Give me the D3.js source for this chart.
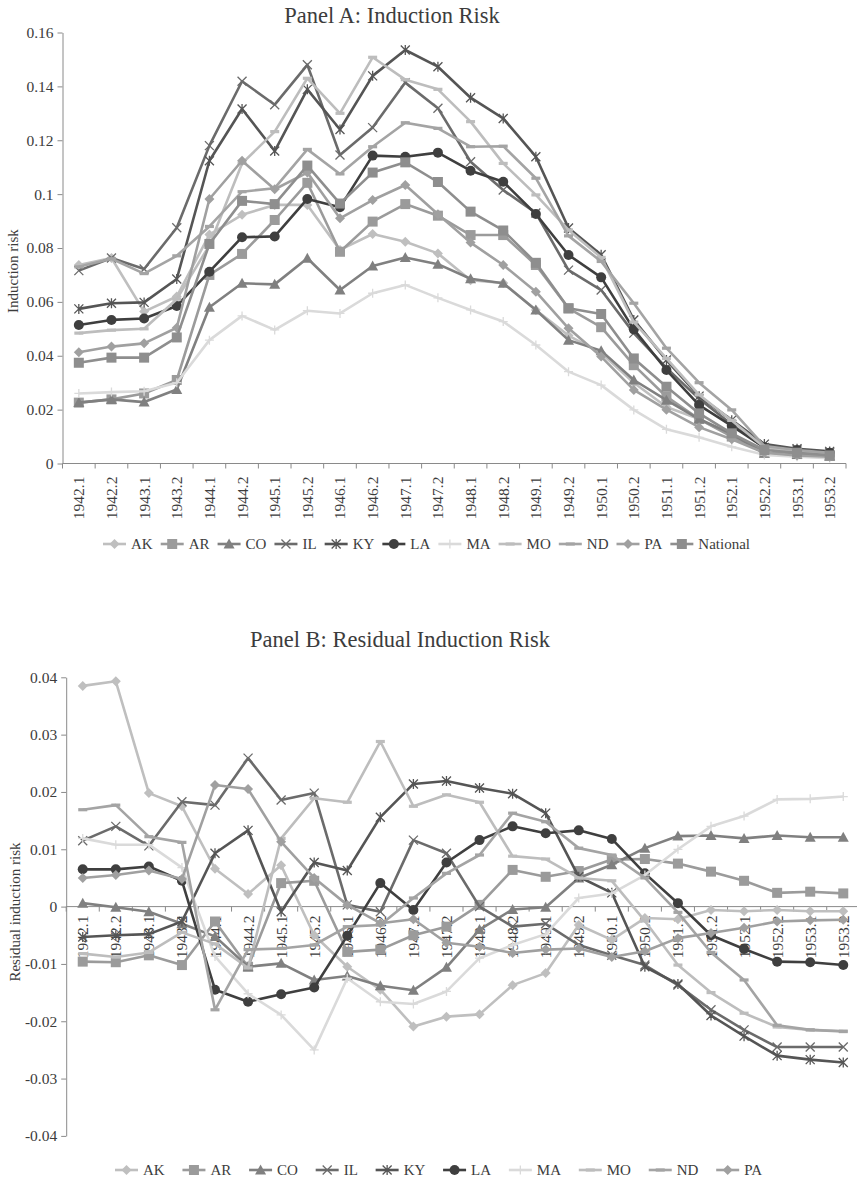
<!DOCTYPE html>
<html>
<head>
<meta charset="utf-8">
<script src="https://cdnjs.cloudflare.com/ajax/libs/d3/7.8.5/d3.min.js"></script>
<style>
  body { margin: 0; background: #fff; }
  svg text { font-family: "Liberation Serif", "Times New Roman", serif; fill: #3c3c3c; }
</style>
</head>
<body>
<svg id="chart" width="857" height="1182"></svg>
<script>
// half-year periods on the x axis
const periods = ["1942.1","1942.2","1943.1","1943.2","1944.1","1944.2","1945.1","1945.2",
  "1946.1","1946.2","1947.1","1947.2","1948.1","1948.2","1949.1","1949.2",
  "1950.1","1950.2","1951.1","1951.2","1952.1","1952.2","1953.1","1953.2"]

// Panel A: induction risk
const riskAK = [0.0737,0.0763,0.0564,0.062,0.085,0.0923,0.096,0.096,0.0793,0.0852,0.0823,0.078,0.068,0.067,0.057,0.0475,0.041,0.030,0.021,0.0165,0.0105,0.004,0.0035,0.0025]
const riskAR = [0.0226,0.0238,0.026,0.031,0.070,0.0778,0.0904,0.1042,0.0786,0.0898,0.0963,0.092,0.0848,0.0848,0.0737,0.0576,0.0506,0.0365,0.0248,0.0165,0.010,0.004,0.0035,0.003]
const riskCO = [0.0226,0.0238,0.0228,0.0275,0.058,0.0669,0.0665,0.0762,0.0644,0.0733,0.0765,0.074,0.0686,0.0669,0.057,0.0458,0.0419,0.031,0.0235,0.0165,0.011,0.0038,0.0033,0.0027]
const riskIL = [0.0716,0.0763,0.0722,0.0875,0.118,0.1419,0.1332,0.148,0.1145,0.1247,0.1414,0.1319,0.112,0.1015,0.093,0.0718,0.0644,0.0484,0.0355,0.024,0.0145,0.006,0.005,0.004]
const riskKY = [0.0574,0.0595,0.0598,0.0685,0.1124,0.1316,0.116,0.1389,0.124,0.1439,0.1535,0.1473,0.1358,0.1281,0.1139,0.0874,0.0775,0.0533,0.0384,0.025,0.0161,0.0072,0.0055,0.0045]
const riskLA = [0.0514,0.0533,0.0538,0.0585,0.0712,0.084,0.0843,0.0982,0.0951,0.1143,0.1139,0.1154,0.1087,0.1046,0.0926,0.0774,0.0691,0.0498,0.0347,0.0217,0.014,0.006,0.005,0.004]
const riskMA = [0.026,0.0265,0.0268,0.030,0.0458,0.0548,0.0496,0.0567,0.0557,0.0632,0.0663,0.0615,0.057,0.0527,0.044,0.0341,0.0291,0.0199,0.0127,0.0097,0.0062,0.0032,0.0025,0.002]
const riskMO = [0.0484,0.0495,0.050,0.061,0.081,0.1114,0.1232,0.143,0.130,0.1508,0.1425,0.1389,0.1269,0.1114,0.0997,0.0867,0.0765,0.0525,0.039,0.0255,0.016,0.006,0.0045,0.0035]
const riskND = [0.073,0.076,0.0705,0.0771,0.088,0.1009,0.1022,0.1166,0.1075,0.1176,0.1265,0.1244,0.1176,0.1178,0.1059,0.0845,0.075,0.0595,0.0428,0.030,0.0199,0.0065,0.005,0.004]
const riskPA = [0.0413,0.0434,0.0446,0.0504,0.0982,0.1124,0.1018,0.108,0.091,0.0978,0.1034,0.0925,0.082,0.0737,0.0638,0.0502,0.0397,0.0273,0.020,0.0135,0.009,0.004,0.003,0.0025]
const riskNational = [0.0374,0.0393,0.0393,0.0468,0.0815,0.0975,0.0963,0.1106,0.0965,0.108,0.1118,0.1045,0.0935,0.0865,0.0745,0.0576,0.0555,0.039,0.0285,0.0186,0.0112,0.005,0.004,0.003]

// Panel B: residual induction risk
const residAK = [0.0385,0.0393,0.0198,0.0175,0.0066,0.0022,0.0072,-0.005,-0.0105,-0.0145,-0.0209,-0.0192,-0.0188,-0.0137,-0.0116,-0.0032,-0.0058,-0.002,-0.0022,-0.0006,-0.0008,-0.0006,-0.0008,-0.0008]
const residAR = [-0.0096,-0.0097,-0.0085,-0.0102,-0.0026,-0.0105,0.0041,0.0045,-0.0079,-0.0075,-0.005,-0.0035,0.0003,0.0064,0.0052,0.0062,0.0082,0.0083,0.0075,0.0061,0.0045,0.0024,0.0026,0.0023]
const residCO = [0.0006,-0.0001,-0.0009,-0.003,-0.0052,-0.0105,-0.0099,-0.0128,-0.0121,-0.0138,-0.0146,-0.0106,-0.004,-0.0005,-0.0001,0.005,0.0073,0.0102,0.0123,0.0124,0.0119,0.0124,0.0121,0.0121]
const residIL = [0.0115,0.014,0.0106,0.0183,0.0177,0.0259,0.0186,0.0198,0.0003,-0.0009,0.0116,0.0093,0.0,-0.0035,-0.003,-0.0067,-0.0085,-0.0102,-0.0137,-0.018,-0.0215,-0.0245,-0.0245,-0.0245]
const residKY = [-0.0053,-0.005,-0.0048,-0.0026,0.0093,0.0133,-0.0009,0.0077,0.0063,0.0156,0.0214,0.0219,0.0207,0.0197,0.0163,0.0052,0.0024,-0.0105,-0.0135,-0.019,-0.0226,-0.026,-0.0267,-0.0272]
const residLA = [0.0065,0.0065,0.007,0.0045,-0.0145,-0.0166,-0.0153,-0.0141,-0.0051,0.0041,-0.0006,0.0077,0.0116,0.014,0.0128,0.0133,0.0118,0.0058,0.0006,-0.005,-0.0074,-0.0096,-0.0097,-0.0102]
const residMA = [0.0119,0.0108,0.0108,0.0068,-0.0087,-0.0152,-0.0189,-0.025,-0.0125,-0.0166,-0.017,-0.0148,-0.009,-0.0067,-0.0048,0.0015,0.0023,0.0055,0.010,0.014,0.0158,0.0187,0.0188,0.0192]
const residMO = [-0.0082,-0.0088,-0.008,-0.0045,-0.0065,-0.0107,0.0119,0.0189,0.0182,0.0288,0.0175,0.0195,0.0182,0.0088,0.0083,0.005,0.0045,-0.0025,-0.0102,-0.015,-0.0186,-0.021,-0.0215,-0.0217]
const residND = [0.0169,0.0177,0.0122,0.0112,-0.018,-0.0075,-0.0073,-0.0067,-0.0035,-0.0032,0.0015,0.0058,0.009,0.0163,0.0148,0.0102,0.009,0.005,-0.001,-0.008,-0.0128,-0.0207,-0.0215,-0.0218]
const residPA = [0.005,0.0055,0.0063,0.0048,0.0212,0.0205,0.0113,0.005,0.0003,-0.0029,-0.0022,-0.0063,-0.007,-0.0081,-0.0075,-0.0073,-0.0088,-0.0078,-0.0055,-0.0046,-0.0037,-0.0026,-0.0024,-0.0023]

const ticksA = [0, 0.02, 0.04, 0.06, 0.08, 0.1, 0.12, 0.14, 0.16]
const ticksB = [-0.04, -0.03, -0.02, -0.01, 0, 0.01, 0.02, 0.03, 0.04]

// series look, Excel grayscale style
const styles = {
  AK: { color: "#bfbfbf", marker: "diamond" },
  AR: { color: "#9b9b9b", marker: "square" },
  CO: { color: "#808080", marker: "triangle" },
  IL: { color: "#6b6b6b", marker: "x" },
  KY: { color: "#555555", marker: "star" },
  LA: { color: "#3f3f3f", marker: "circle" },
  MA: { color: "#dadada", marker: "plus" },
  MO: { color: "#bdbdbd", marker: "dash" },
  ND: { color: "#a4a4a4", marker: "dash" },
  PA: { color: "#a0a0a0", marker: "diamond" },
  National: { color: "#8e8e8e", marker: "square" }
}

const seriesA = [
  ["AK", riskAK], ["AR", riskAR], ["CO", riskCO], ["IL", riskIL], ["KY", riskKY], ["LA", riskLA],
  ["MA", riskMA], ["MO", riskMO], ["ND", riskND], ["PA", riskPA], ["National", riskNational]
]
const seriesB = [
  ["AK", residAK], ["AR", residAR], ["CO", residCO], ["IL", residIL], ["KY", residKY], ["LA", residLA],
  ["MA", residMA], ["MO", residMO], ["ND", residND], ["PA", residPA]
]

const svg = d3.select("#chart")
const axisColor = "#8a8a8a"
const fmt = d => String(+d.toFixed(2))

function drawMarker(g, kind, color) {
  if (kind === "diamond") {
    g.append("path").attr("d", "M0,-5L5,0L0,5L-5,0Z").attr("fill", color)
  } else if (kind === "square") {
    g.append("rect").attr("x", -5).attr("y", -5).attr("width", 10).attr("height", 10).attr("fill", color)
  } else if (kind === "triangle") {
    g.append("path").attr("d", "M0,-5.5L5.5,4.5L-5.5,4.5Z").attr("fill", color)
  } else if (kind === "circle") {
    g.append("circle").attr("r", 5).attr("fill", color)
  } else if (kind === "x" || kind === "star") {
    let d = "M-4.5,-4.5L4.5,4.5M-4.5,4.5L4.5,-4.5"
    if (kind === "star") d += "M0,-5L0,5"
    g.append("path").attr("d", d).attr("stroke", color).attr("stroke-width", 1.3).attr("fill", "none")
  } else if (kind === "plus") {
    g.append("path").attr("d", "M-4.5,0L4.5,0M0,-4.5L0,4.5").attr("stroke", color).attr("stroke-width", 1.3)
  } else if (kind === "dash") {
    g.append("rect").attr("x", -4.5).attr("y", -1.6).attr("width", 9).attr("height", 3.2).attr("fill", color)
  }
}

function drawPanel(cfg) {
  const x = d3.scaleBand().domain(periods).range([cfg.left, cfg.right])
  const y = d3.scaleLinear().domain(cfg.domain).range([cfg.bottom, cfg.top])
  const bw = x.bandwidth()
  const cx = p => x(p) + bw / 2
  const g = svg.append("g")

  // y axis
  g.append("g")
    .attr("transform", `translate(${cfg.left},0)`)
    .call(d3.axisLeft(y).tickValues(cfg.ticks).tickFormat(fmt).tickSize(5).tickSizeOuter(0))
    .call(a => a.select(".domain").attr("stroke", axisColor))
    .call(a => a.selectAll(".tick line").attr("stroke", axisColor))
    .call(a => a.selectAll(".tick text").attr("x", -9).style("font-size", "15.5px")
      .style("font-family", "'Liberation Serif', serif").attr("fill", "#3c3c3c"))

  // x axis: line, ticks between categories, rotated labels
  const axisY = y(cfg.axisAt)
  g.append("line").attr("x1", cfg.left).attr("x2", cfg.right)
    .attr("y1", axisY).attr("y2", axisY).attr("stroke", axisColor)
  g.selectAll(".xtick").data(periods.concat(["end"])).join("line")
    .attr("x1", (d, i) => cfg.left + i * bw).attr("x2", (d, i) => cfg.left + i * bw)
    .attr("y1", axisY).attr("y2", axisY + 5).attr("stroke", axisColor)
  g.selectAll(".xlabel").data(periods).join("text")
    .attr("transform", d => `translate(${cx(d) + 5.5},${axisY + cfg.labelGap}) rotate(-90)`)
    .attr("text-anchor", "end")
    .style("font-size", "15.5px")
    .text(d => d)

  // series lines and markers
  const line = d3.line().x((d, i) => cx(periods[i])).y(d => y(d))
  cfg.series.forEach(([name, values]) => {
    const st = styles[name]
    g.append("path").datum(values).attr("d", line)
      .attr("fill", "none").attr("stroke", st.color).attr("stroke-width", 2.6)
      .attr("stroke-linejoin", "round")
    values.forEach((v, i) => {
      const m = g.append("g").attr("transform", `translate(${cx(periods[i])},${y(v)})`)
      drawMarker(m, st.marker, st.color)
    })
  })

  // titles
  svg.append("text").attr("x", cfg.titleX).attr("y", cfg.titleY)
    .attr("text-anchor", "middle").style("font-size", "22.5px").text(cfg.title)
  svg.append("text")
    .attr("transform", `translate(${cfg.ylabelX},${cfg.ylabelY}) rotate(-90)`)
    .attr("text-anchor", "middle").style("font-size", "15px").text(cfg.ylabel)

  // legend spread between given edges
  const lg = svg.append("g")
  const items = cfg.series.map(([name]) => {
    const t = lg.append("text").style("font-size", "15px").text(name)
    return { name, t, w: t.node().getComputedTextLength() }
  })
  const used = d3.sum(items, d => 23 + 5 + d.w)
  const gap = (cfg.legendRight - cfg.legendLeft - used) / (items.length - 1)
  let lx = cfg.legendLeft
  items.forEach(it => {
    const st = styles[it.name]
    lg.append("line").attr("x1", lx).attr("x2", lx + 23)
      .attr("y1", cfg.legendY).attr("y2", cfg.legendY)
      .attr("stroke", st.color).attr("stroke-width", 2.6)
    drawMarker(lg.append("g").attr("transform", `translate(${lx + 11.5},${cfg.legendY})`), st.marker, st.color)
    it.t.attr("x", lx + 28).attr("y", cfg.legendY + 5)
    lx += 23 + 5 + it.w + gap
  })
}

drawPanel({
  left: 62.5, right: 846, top: 32.5, bottom: 463.5,
  domain: [0, 0.16], ticks: ticksA, axisAt: 0, labelGap: 13,
  series: seriesA,
  title: "Panel A: Induction Risk", titleX: 392, titleY: 23,
  ylabel: "Induction risk", ylabelX: 18, ylabelY: 271,
  legendLeft: 103, legendRight: 750, legendY: 544
})

drawPanel({
  left: 66.2, right: 859.8, top: 677.3, bottom: 1135.9,
  domain: [-0.04, 0.04], ticks: ticksB, axisAt: 0, labelGap: 9,
  series: seriesB,
  title: "Panel B: Residual Induction Risk", titleX: 400, titleY: 647,
  ylabel: "Residual induction risk", ylabelX: 20, ylabelY: 912,
  legendLeft: 115, legendRight: 762, legendY: 1170
})
</script>
</body>
</html>
